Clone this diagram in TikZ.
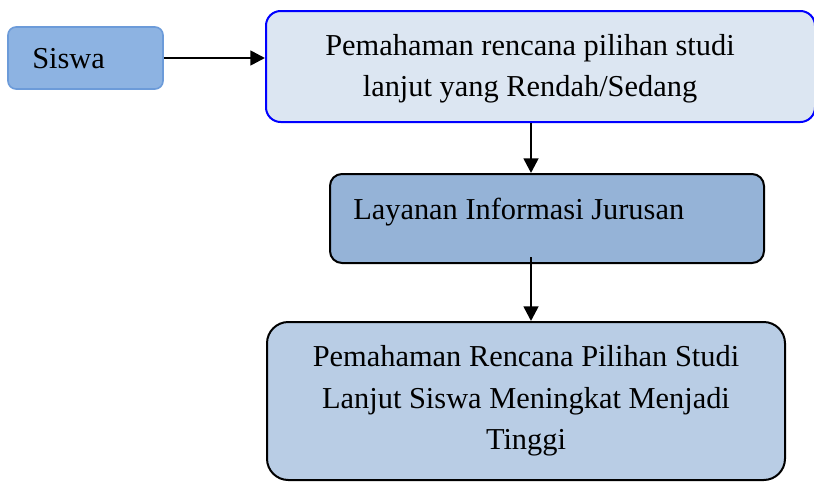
\documentclass[tikz,border=0pt]{standalone}
\usepackage{fontspec}
\setmainfont{Liberation Serif}
\usetikzlibrary{arrows.meta}
\definecolor{siswafill}{HTML}{8DB3E2}
\definecolor{siswaline}{HTML}{6C9BD9}
\definecolor{onefill}{HTML}{DCE6F2}
\definecolor{twofill}{HTML}{95B3D7}
\definecolor{threefill}{HTML}{B9CDE5}
\tikzset{
  box/.style={draw, line width=1.5pt, inner sep=0pt},
  lbl/.style={inner sep=0pt, font=\fontsize{22.8}{31}\selectfont, align=center},
  arr/.style={line width=2pt, -{Triangle[length=11pt,width=11pt]}}
}
\begin{document}
\begin{tikzpicture}[x=0.75pt,y=-0.75pt]
\useasboundingbox (0,0) rectangle (814,482);
\node[box, draw=siswaline, fill=siswafill, line width=1.2pt, rounded corners=6pt,
  minimum width={155*0.75pt}, minimum height={62*0.75pt}] (siswa) at (85.5,58) {};
\node[box, draw=blue, fill=onefill, rounded corners=11pt,
  minimum width={549*0.75pt}, minimum height={111*0.75pt}] (one) at (540.5,66.5) {};
\node[box, fill=twofill, rounded corners=9pt,
  minimum width={434*0.75pt}, minimum height={89*0.75pt}] (two) at (547,218.5) {};
\node[box, fill=threefill, rounded corners=16pt,
  minimum width={518*0.75pt}, minimum height={158*0.75pt}] (three) at (526,401) {};
\coordinate (ax) at (531,0);
\node[lbl, anchor=west] (tsiswa) at (32,59) {Siswa};
\node[lbl] (tone) at (530,69) {Pemahaman rencana pilihan studi\\lanjut yang Rendah/Sedang};
\node[lbl, anchor=west] (ttwo) at (353,212) {Layanan Informasi Jurusan};
\node[lbl] (tthree) at (526,401) {Pemahaman Rencana Pilihan Studi\\Lanjut Siswa Meningkat Menjadi\\Tinggi};
\draw[arr] (siswa.east) -- (siswa.east -| one.west);
\draw[arr] (one.south -| ax) -- (two.north -| ax);
\draw[arr] ([yshift=5pt]two.south -| ax) -- (three.north -| ax);
\end{tikzpicture}
\end{document}
